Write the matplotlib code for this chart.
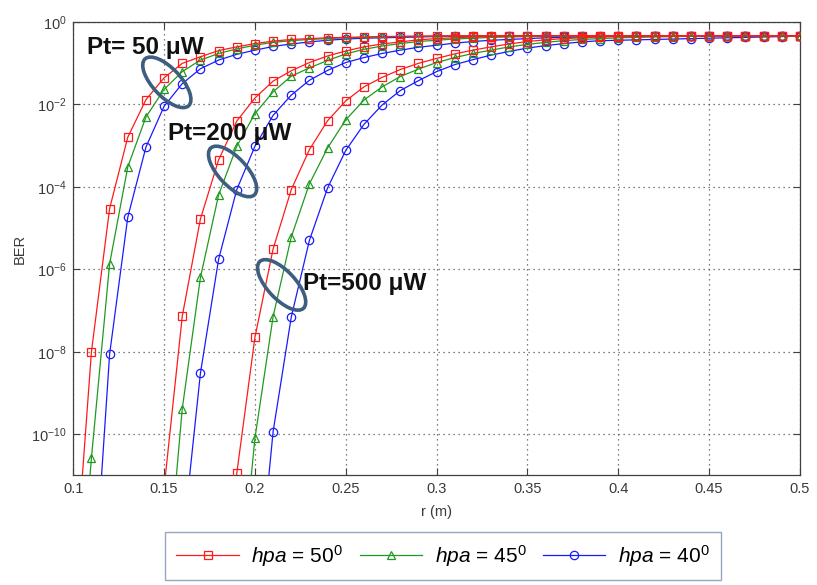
import numpy as np
import matplotlib.pyplot as plt
import matplotlib.transforms as mtransforms
from matplotlib.patches import Ellipse

plt.rcParams['font.family'] = ['Liberation Sans', 'DejaVu Sans']
plt.rcParams['mathtext.fontset'] = 'custom'
plt.rcParams['mathtext.rm'] = 'Liberation Sans'
plt.rcParams['mathtext.it'] = 'Liberation Sans:italic'

nan = np.nan

# distance r (m)
r = [0.10, 0.11, 0.12, 0.13, 0.14, 0.15, 0.16, 0.17, 0.18, 0.19,
     0.20, 0.21, 0.22, 0.23, 0.24, 0.25, 0.26, 0.27, 0.28, 0.29,
     0.30, 0.31, 0.32, 0.33, 0.34, 0.35, 0.36, 0.37, 0.38, 0.39,
     0.40, 0.41, 0.42, 0.43, 0.44, 0.45, 0.46, 0.47, 0.48, 0.49, 0.50]

# log10(BER), one list per (Pt, hpa)
# Pt = 50 uW
p50_h50 = [-14.0, -8.0, -4.53, -2.80, -1.89, -1.36, -1.01, -0.85, -0.70, -0.61,
           -0.53, -0.47, -0.43, -0.41, -0.39, -0.38, -0.37, -0.36, -0.355, -0.35,
           -0.345, -0.343, -0.34, -0.34, -0.34, -0.34, -0.34, -0.34, -0.34, -0.34,
           -0.34, -0.34, -0.34, -0.34, -0.34, -0.34, -0.34, -0.34, -0.34, -0.34, -0.34]
p50_h45 = [-16.0, -10.57, -5.87, -3.52, -2.31, -1.64, -1.21, -0.93, -0.77, -0.66,
           -0.57, -0.50, -0.46, -0.43, -0.41, -0.39, -0.38, -0.37, -0.36, -0.355,
           -0.35, -0.345, -0.343, -0.34, -0.34, -0.34, -0.34, -0.34, -0.34, -0.34,
           -0.34, -0.34, -0.34, -0.34, -0.34, -0.34, -0.34, -0.34, -0.34, -0.34, -0.34]
p50_h40 = [nan, -14.7, -8.06, -4.74, -3.04, -2.05, -1.50, -1.14, -0.93, -0.79,
           -0.69, -0.60, -0.54, -0.49, -0.45, -0.42, -0.40, -0.39, -0.38, -0.37,
           -0.36, -0.355, -0.35, -0.345, -0.343, -0.34, -0.34, -0.34, -0.34, -0.34,
           -0.34, -0.34, -0.34, -0.34, -0.34, -0.34, -0.34, -0.34, -0.34, -0.34, -0.34]
# Pt = 200 uW
p200_h50 = [nan, nan, nan, nan, nan, -11.3, -7.14, -4.78, -3.35, -2.41,
            -1.85, -1.44, -1.19, -0.99, -0.83, -0.71, -0.61, -0.54, -0.49, -0.44,
            -0.41, -0.39, -0.37, -0.36, -0.35, -0.345, -0.343, -0.34, -0.34, -0.34,
            -0.34, -0.34, -0.34, -0.34, -0.34, -0.34, -0.34, -0.34, -0.34, -0.34, -0.34]
p200_h45 = [nan, nan, nan, nan, nan, -14.4, -9.38, -6.20, -4.20, -3.02,
            -2.23, -1.70, -1.32, -1.12, -0.94, -0.78, -0.67, -0.59, -0.53, -0.48,
            -0.45, -0.42, -0.40, -0.38, -0.37, -0.36, -0.355, -0.35, -0.345, -0.34,
            -0.34, -0.34, -0.34, -0.34, -0.34, -0.34, -0.34, -0.34, -0.34, -0.34, -0.34]
p200_h40 = [nan, nan, nan, nan, nan, nan, -12.7, -8.52, -5.76, -4.07,
            -3.02, -2.27, -1.78, -1.42, -1.18, -0.99, -0.87, -0.77, -0.69, -0.62,
            -0.57, -0.52, -0.48, -0.45, -0.43, -0.41, -0.39, -0.38, -0.37, -0.36,
            -0.355, -0.35, -0.345, -0.34, -0.34, -0.34, -0.34, -0.34, -0.34, -0.34, -0.34]
# Pt = 500 uW
p500_h50 = [nan, nan, nan, nan, nan, nan, nan, nan, -15.0, -10.95,
            -7.65, -5.51, -4.07, -3.10, -2.40, -1.92, -1.58, -1.35, -1.16, -1.01,
            -0.89, -0.78, -0.69, -0.61, -0.54, -0.48, -0.44, -0.41, -0.39, -0.37,
            -0.36, -0.355, -0.35, -0.345, -0.34, -0.34, -0.34, -0.34, -0.34, -0.34, -0.34]
p500_h45 = [nan, nan, nan, nan, nan, nan, nan, nan, nan, -14.6,
            -10.1, -7.15, -5.22, -3.93, -3.06, -2.38, -1.90, -1.58, -1.33, -1.15,
            -0.99, -0.87, -0.77, -0.69, -0.61, -0.55, -0.50, -0.46, -0.43, -0.41,
            -0.39, -0.38, -0.37, -0.36, -0.355, -0.35, -0.345, -0.34, -0.34, -0.34, -0.34]
p500_h40 = [nan, nan, nan, nan, nan, nan, nan, nan, nan, nan,
            -14.5, -9.94, -7.16, -5.30, -4.03, -3.12, -2.49, -2.02, -1.67, -1.43,
            -1.21, -1.04, -0.92, -0.81, -0.72, -0.64, -0.58, -0.53, -0.49, -0.46,
            -0.45, -0.44, -0.43, -0.42, -0.41, -0.40, -0.39, -0.38, -0.37, -0.36, -0.35]

series = {
    'h50': [p50_h50, p200_h50, p500_h50],
    'h45': [p50_h45, p200_h45, p500_h45],
    'h40': [p50_h40, p200_h40, p500_h40],
}
labels = {'h50': r'$\it{hpa}$ = 50$^0$',
          'h45': r'$\it{hpa}$ = 45$^0$',
          'h40': r'$\it{hpa}$ = 40$^0$'}
colors = {'h50': '#ff1a1a', 'h45': '#1f9a1f', 'h40': '#1a1aff'}
markers = {'h50': 's', 'h45': '^', 'h40': 'o'}
zorders = {'h50': 5, 'h45': 4, 'h40': 3}

fig = plt.figure(figsize=(8.17, 5.85), dpi=100)
ax = fig.add_axes([0.0897, 0.1872, 0.8893, 0.7757])

handles = []
for key in ['h50', 'h45', 'h40']:
    for k, logber in enumerate(series[key]):
        ber = 10.0 ** np.array(logber, dtype=float)
        line, = ax.plot(r, ber, color=colors[key], marker=markers[key],
                        markersize=6, markerfacecolor='none',
                        markeredgewidth=0.9, linewidth=0.9,
                        zorder=zorders[key], clip_on=True)
        if k == 0:
            handles.append(line)

ax.set_yscale('log')
ax.set_xlim(0.1, 0.5)
ax.set_ylim(1e-11, 1)
ax.set_xticks([0.1, 0.15, 0.2, 0.25, 0.3, 0.35, 0.4, 0.45, 0.5])
ax.set_xticklabels(['0.1', '0.15', '0.2', '0.25', '0.3', '0.35', '0.4', '0.45', '0.5'])
ax.set_yticks([1e-10, 1e-8, 1e-6, 1e-4, 1e-2, 1e0])
ax.minorticks_off()
ax.tick_params(direction='in', top=True, right=True, length=5, width=0.8,
               labelsize=10.5, labelcolor='#3a3a3a', color='#404040', pad=5)
ax.grid(True, linestyle=(0, (1, 3)), color='#555555', linewidth=0.9)
for s in ax.spines.values():
    s.set_color('#404040')
    s.set_linewidth(0.9)

ax.set_xlabel('r (m)', fontsize=10.5, color='#3a3a3a', labelpad=6)
ax.set_ylabel('BER', fontsize=10.5, color='#3a3a3a', labelpad=3)

# power annotations with ellipses
ann_text = [('Pt= 50 \u03bcW', 0.1395, 10 ** -0.615),
            ('Pt=200 \u03bcW', 0.1862, 10 ** -2.71),
            ('Pt=500 \u03bcW', 0.2602, 10 ** -6.35)]
for txt, x, y in ann_text:
    ax.text(x, y, txt, fontsize=17.5, fontweight='bold', ha='center', va='center',
            color='#111111', zorder=10)

ell_pos = [(0.1515, 10 ** -1.47), (0.1877, 10 ** -3.63), (0.2147, 10 ** -6.38)]
for x, y in ell_pos:
    trans = fig.dpi_scale_trans + mtransforms.ScaledTranslation(x, y, ax.transData)
    e = Ellipse((0, 0), 0.64, 0.28, angle=-47, fill=False, edgecolor='#3d5e7e',
                linewidth=2.6, transform=trans, zorder=9)
    ax.add_artist(e)

leg = fig.legend(handles, [labels[k] for k in ['h50', 'h45', 'h40']],
                 loc='center', bbox_to_anchor=(443 / 817, 1 - 556 / 585), ncol=3,
                 fontsize=15, handlelength=3, columnspacing=0.8, handletextpad=0.6,
                 fancybox=False, edgecolor='#7d91ab', borderpad=0.55, borderaxespad=0)
leg.get_frame().set_linewidth(1.0)
for h in leg.legend_handles:
    h.set_markersize(6)

fig.savefig('out.png', dpi=100)
